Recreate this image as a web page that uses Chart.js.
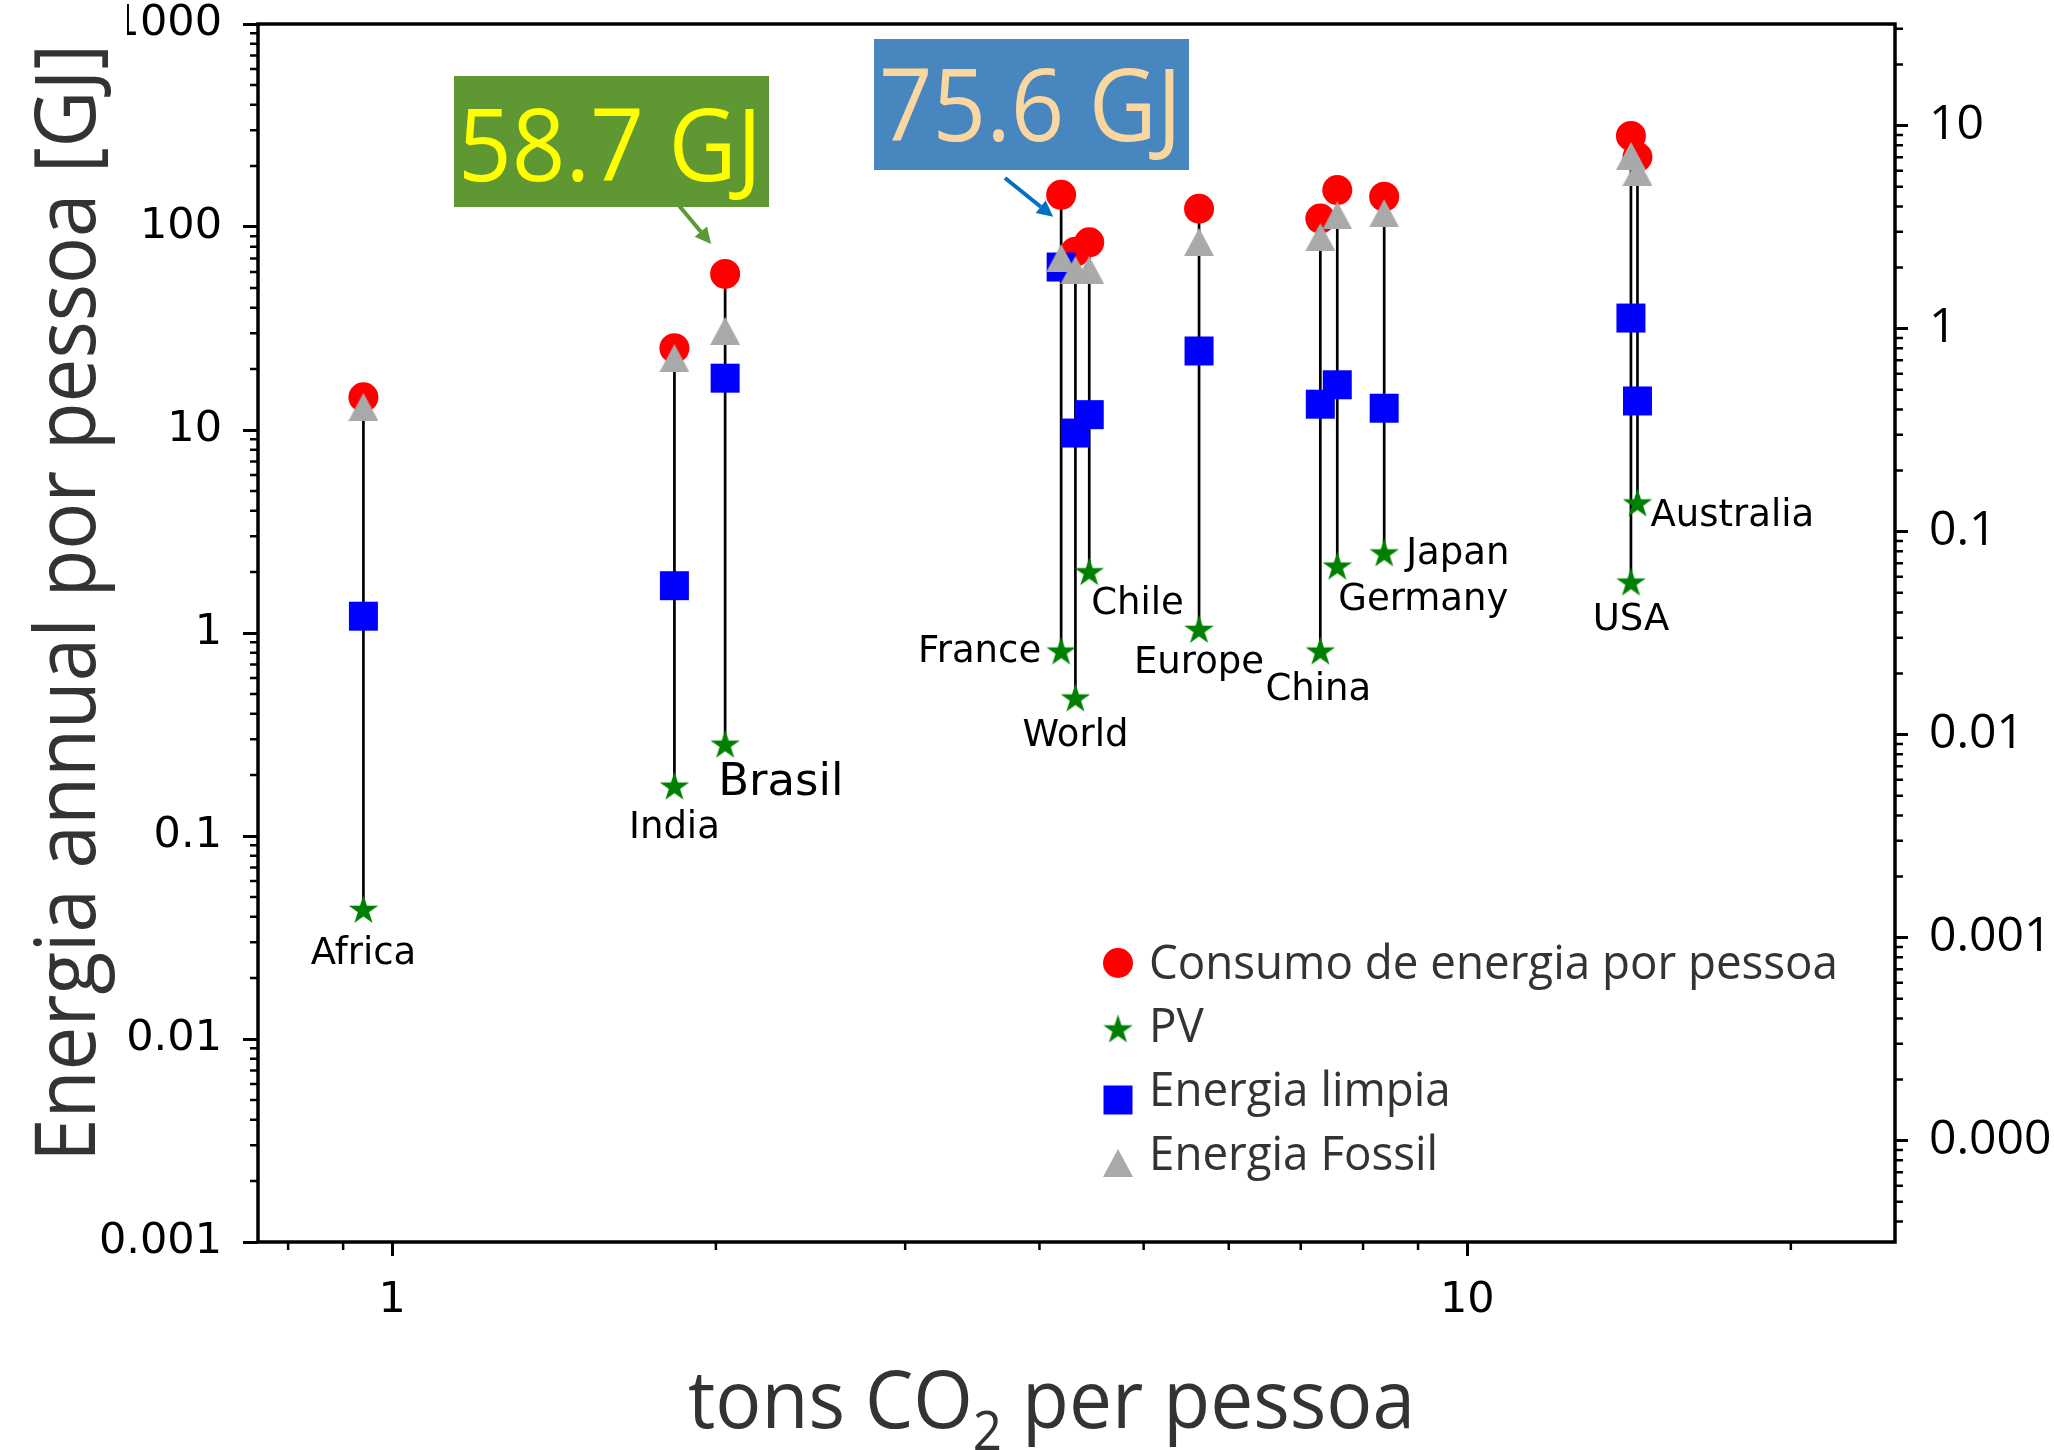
<!DOCTYPE html>
<html>
<head>
<meta charset="utf-8">
<title>Energia vs CO2</title>
<script src="https://cdn.jsdelivr.net/npm/chart.js@4.4.0/dist/chart.umd.min.js"></script>
<style>
  html, body { margin: 0; padding: 0; background: #fff; }
  canvas { display: block; }
</style>
</head>
<body>
<canvas id="co2Chart" width="2054" height="1450"></canvas>
<script>
// values (GJ per person per year, tons CO2 per person)
var countries = ['Africa', 'India', 'Brasil', 'France', 'World', 'Chile', 'Europe', 'China', 'Germany', 'Japan', 'USA', 'Australia'];
var co2 = [0.94, 1.83, 2.04, 4.19, 4.32, 4.45, 5.63, 7.30, 7.57, 8.37, 14.2, 14.4];
var consumo = [14.5, 25.3, 58.7, 144, 75.6, 84, 123, 110, 152, 141, 281, 221];
var pv = [0.043, 0.174, 0.28, 0.805, 0.473, 1.98, 1.03, 0.805, 2.11, 2.45, 1.76, 4.32];
var limpia = [1.21, 1.71, 18.0, 63.5, 9.66, 11.9, 24.5, 13.4, 16.7, 12.8, 35.6, 13.9];
var fossil = [13.0, 22.6, 30.8, 70.3, 61.4, 61.4, 84.3, 89.3, 114, 117, 224, 187];

var xTicks = [1, 10];
var xTickLabels = ['1', '10'];
var xMinorTicks = [0.8, 0.9, 2, 3, 4, 5, 6, 7, 8, 9, 20];
var yTicks = [0.001, 0.01, 0.1, 1, 10, 100, 1000];
var yTickLabels = ['0.001', '0.01', '0.1', '1', '10', '100', '1000'];
var y2Ticks = [0.0001, 0.001, 0.01, 0.1, 1, 10];
var y2TickLabels = ['0.0001', '0.001', '0.01', '0.1', '1', '10'];
var GJ_TO_KW = 0.03169; // 1 GJ per year as average kW

var seriesLabels = ['Consumo de energia por pessoa', 'PV', 'Energia limpia', 'Energia Fossil'];

// minor ticks, 2..9 in each decade
function minorTicks(lo, hi) {
    var out = [];
    for (var d = lo; d < hi * 1.0001; d *= 10) {
        for (var m = 2; m <= 9; m++) {
            var v = d * m;
            if (v < hi) out.push(v);
        }
    }
    return out;
}

// filled star and triangle markers (matplotlib style)
function makeStar(color, R) {
    var s = Math.ceil(R * 2 + 2);
    var c = document.createElement('canvas');
    c.width = s; c.height = s;
    var g = c.getContext('2d');
    g.fillStyle = color;
    g.beginPath();
    for (var k = 0; k < 10; k++) {
        var r = k % 2 === 0 ? R : R * 0.382;
        var ang = -Math.PI / 2 + k * Math.PI / 5;
        var px = s / 2 + r * Math.cos(ang), py = s / 2 + r * Math.sin(ang);
        if (k === 0) g.moveTo(px, py); else g.lineTo(px, py);
    }
    g.closePath();
    g.fill();
    return c;
}

function makeTriangle(color, w, h) {
    var c = document.createElement('canvas');
    c.width = w; c.height = h;
    var g = c.getContext('2d');
    g.fillStyle = color;
    g.beginPath();
    g.moveTo(w / 2, 0);
    g.lineTo(w, h);
    g.lineTo(0, h);
    g.closePath();
    g.fill();
    return c;
}

var starImg = makeStar('#008000', 15.5);
var triImg = makeTriangle('#a9a9a9', 30, 28);

function pts(values) {
    return values.map(function(v, i) { return { x: co2[i], y: v }; });
}

// one stem per country, red point down to the PV star
var stems = [];
co2.forEach(function(x, i) {
    stems.push({ x: x, y: Math.max(consumo[i], fossil[i]) }, { x: x, y: pv[i] }, { x: x, y: null });
});

function fitText(ctx, text, x, y, width, align) {
    var w = ctx.measureText(text).width;
    ctx.save();
    ctx.translate(x, y);
    ctx.scale(width / w, 1);
    ctx.textAlign = align;
    ctx.fillText(text, 0, 0);
    ctx.restore();
}

function arrow(ctx, x0, y0, x1, y1, color) {
    var ang = Math.atan2(y1 - y0, x1 - x0);
    var hl = 16, hw = 8;
    ctx.save();
    ctx.strokeStyle = color;
    ctx.fillStyle = color;
    ctx.lineWidth = 4;
    ctx.beginPath();
    ctx.moveTo(x0, y0);
    ctx.lineTo(x1 - hl * Math.cos(ang), y1 - hl * Math.sin(ang));
    ctx.stroke();
    ctx.beginPath();
    ctx.moveTo(x1, y1);
    ctx.lineTo(x1 - hl * Math.cos(ang) + hw * Math.sin(ang), y1 - hl * Math.sin(ang) - hw * Math.cos(ang));
    ctx.lineTo(x1 - hl * Math.cos(ang) - hw * Math.sin(ang), y1 - hl * Math.sin(ang) + hw * Math.cos(ang));
    ctx.closePath();
    ctx.fill();
    ctx.restore();
}

// where each country name sits relative to its PV star
var labelPos = {
    Africa: ['center', 0, 44, 37], India: ['center', 0, 41, 37], Brasil: ['left', -7, 38, 45],
    France: ['right', -20, 0, 37], World: ['center', 0, 37, 37], Chile: ['left', 2, 32, 37],
    Europe: ['center', 0, 33, 37], China: ['center', -2, 38, 37], Germany: ['left', 1, 33, 37],
    Japan: ['left', 22, 0, 37], USA: ['center', 0, 37, 37], Australia: ['left', 13, 12, 37]
};

var decor = {
    id: 'decor',
    afterDraw: function(chart) {
        var ctx = chart.ctx, a = chart.chartArea;
        var sx = chart.scales.x, sy = chart.scales.y, sy2 = chart.scales.y2;
        ctx.save();

        // minor ticks
        ctx.strokeStyle = '#000';
        ctx.lineWidth = 2.5;
        ctx.beginPath();
        xMinorTicks.forEach(function(v) {
            var px = sx.getPixelForValue(v);
            ctx.moveTo(px, a.bottom); ctx.lineTo(px, a.bottom + 8);
        });
        minorTicks(0.001, 1000).forEach(function(v) {
            var py = sy.getPixelForValue(v);
            ctx.moveTo(a.left - 8, py); ctx.lineTo(a.left, py);
        });
        minorTicks(0.00001, 1000 * GJ_TO_KW).forEach(function(v) {
            if (v < sy2.min) return;
            var py = sy2.getPixelForValue(v);
            ctx.moveTo(a.right, py); ctx.lineTo(a.right + 8, py);
        });
        ctx.stroke();

        // frame
        ctx.lineWidth = 3.5;
        ctx.strokeRect(a.left, a.top, a.right - a.left, a.bottom - a.top);

        // country names
        ctx.fillStyle = '#000';
        ctx.textBaseline = 'middle';
        countries.forEach(function(name, i) {
            var p = labelPos[name];
            ctx.font = p[3] + 'px "DejaVu Sans"';
            ctx.textAlign = p[0];
            ctx.fillText(name, sx.getPixelForValue(co2[i]) + p[1], sy.getPixelForValue(pv[i]) + p[2]);
        });

        // callouts
        var bi = countries.indexOf('Brasil'), fi = countries.indexOf('France');
        ctx.fillStyle = '#5f9733';
        ctx.fillRect(454, 76, 315, 131);
        ctx.fillStyle = '#ffff00';
        ctx.textBaseline = 'alphabetic';
        ctx.font = '101px "Open Sans"';
        fitText(ctx, '58.7 GJ', 458, 181, 304, 'left');
        arrow(ctx, 676, 202, sx.getPixelForValue(co2[bi]) - 14, sy.getPixelForValue(consumo[bi]) - 30, '#5a9a35');

        ctx.fillStyle = '#4786be';
        ctx.fillRect(874, 39, 315, 131);
        ctx.fillStyle = '#fad7a0';
        ctx.font = '101px "Open Sans"';
        fitText(ctx, '75.6 GJ', 879, 141, 303, 'left');
        arrow(ctx, 1005, 178, sx.getPixelForValue(co2[fi]) - 8, sy.getPixelForValue(consumo[fi]) + 22, '#0070c0');

        // the y title box hides the first digit of 1000
        ctx.fillStyle = '#fff';
        ctx.fillRect(0, 0, 127, 46);

        // axis titles
        ctx.fillStyle = '#333';
        ctx.font = '85px "Open Sans"';
        ctx.save();
        ctx.translate(95, 603);
        ctx.rotate(-Math.PI / 2);
        fitText(ctx, 'Energia annual por pessoa [GJ]', 0, 0, 1118, 'center');
        ctx.restore();

        var mainFont = '81px "Open Sans"', subFont = '54px "Open Sans"';
        ctx.font = mainFont; var w1 = ctx.measureText('tons CO').width;
        ctx.font = subFont; var w2 = ctx.measureText('2').width;
        ctx.font = mainFont; var w3 = ctx.measureText(' per pessoa').width;
        var k = 727 / (w1 + w2 + w3);
        ctx.save();
        ctx.translate(688, 1428);
        ctx.scale(k, 1);
        ctx.textAlign = 'left';
        ctx.font = mainFont; ctx.fillText('tons CO', 0, 0);
        ctx.font = subFont; ctx.fillText('2', w1, 22);
        ctx.font = mainFont; ctx.fillText(' per pessoa', w1 + w2, 0);
        ctx.restore();

        // legend
        var mx = 1118, tx = 1149;
        var rows = [963, 1030, 1100, 1163];
        var base = [979, 1042, 1106, 1170];
        ctx.fillStyle = '#ff0000';
        ctx.beginPath(); ctx.arc(mx, rows[0], 15, 0, Math.PI * 2); ctx.fill();
        ctx.drawImage(starImg, mx - starImg.width / 2, rows[1] - starImg.height / 2);
        ctx.fillStyle = '#0000ff';
        ctx.fillRect(mx - 14.5, rows[2] - 14.5, 29, 29);
        ctx.drawImage(triImg, mx - triImg.width / 2, rows[3] - triImg.height / 2);
        ctx.fillStyle = '#333';
        ctx.font = '47px "Open Sans"';
        var lk = 689 / ctx.measureText(seriesLabels[0]).width;
        seriesLabels.forEach(function(t, i) {
            fitText(ctx, t, tx, base[i], ctx.measureText(t).width * lk, 'left');
        });

        ctx.restore();
    }
};

var ctx = document.getElementById('co2Chart').getContext('2d');
var chart = new Chart(ctx, {
    type: 'scatter',
    data: {
        datasets: [{
            label: 'stems',
            data: stems,
            showLine: true,
            spanGaps: false,
            borderColor: '#000',
            borderWidth: 2.7,
            pointRadius: 0,
            order: 5
        }, {
            label: seriesLabels[0],
            data: pts(consumo),
            pointStyle: 'circle',
            pointRadius: 15,
            pointBackgroundColor: '#ff0000',
            pointBorderWidth: 0,
            order: 4
        }, {
            label: seriesLabels[1],
            data: pts(pv),
            pointStyle: starImg,
            pointRadius: 14,
            pointBorderWidth: 0,
            order: 3
        }, {
            label: seriesLabels[2],
            data: pts(limpia),
            pointStyle: 'rect',
            pointRadius: 20.5,
            pointBackgroundColor: '#0000ff',
            pointBorderWidth: 0,
            order: 2
        }, {
            label: seriesLabels[3],
            data: pts(fossil),
            pointStyle: triImg,
            pointRadius: 14,
            pointBorderWidth: 0,
            order: 1
        }]
    },
    options: {
        responsive: false,
        animation: false,
        devicePixelRatio: 1,
        layout: { padding: { top: 24, left: 0, right: 0, bottom: 0 } },
        plugins: {
            legend: { display: false },
            tooltip: { enabled: false }
        },
        scales: {
            x: {
                type: 'logarithmic',
                position: 'bottom',
                min: 0.75,
                max: 25,
                afterBuildTicks: function(s) { s.ticks = xTicks.map(function(v) { return { value: v }; }); },
                afterFit: function(s) { s.height = 208; s.paddingLeft = 0; s.paddingRight = 0; },
                ticks: {
                    autoSkip: false,
                    maxRotation: 0,
                    padding: 19,
                    color: '#000',
                    font: { family: 'DejaVu Sans', size: 43 },
                    callback: function(v, i) { return xTickLabels[i]; }
                },
                grid: { drawOnChartArea: false, drawTicks: true, tickLength: 14, tickWidth: 3, tickColor: '#000' },
                border: { display: false }
            },
            y: {
                type: 'logarithmic',
                position: 'left',
                min: 0.001,
                max: 1000,
                afterBuildTicks: function(s) { s.ticks = yTicks.map(function(v) { return { value: v }; }); },
                afterFit: function(s) { s.width = 258; s.paddingTop = 0; s.paddingBottom = 0; },
                ticks: {
                    autoSkip: false,
                    padding: 21,
                    color: '#000',
                    font: { family: 'DejaVu Sans', size: 43 },
                    callback: function(v, i) { return yTickLabels[i]; }
                },
                grid: { drawOnChartArea: false, drawTicks: true, tickLength: 15, tickWidth: 3, tickColor: '#000' },
                border: { display: false }
            },
            y2: {
                type: 'logarithmic',
                position: 'right',
                min: 0.001 * GJ_TO_KW,
                max: 1000 * GJ_TO_KW,
                afterBuildTicks: function(s) { s.ticks = y2Ticks.map(function(v) { return { value: v }; }); },
                afterFit: function(s) { s.width = 159; s.paddingTop = 0; s.paddingBottom = 0; },
                ticks: {
                    autoSkip: false,
                    padding: 21,
                    color: '#000',
                    font: { family: 'Open Sans', size: 48 },
                    callback: function(v, i) { return y2TickLabels[i]; }
                },
                grid: { drawOnChartArea: false, drawTicks: true, tickLength: 13, tickWidth: 3, tickColor: '#000' },
                border: { display: false }
            }
        }
    },
    plugins: [decor]
});
</script>
</body>
</html>
